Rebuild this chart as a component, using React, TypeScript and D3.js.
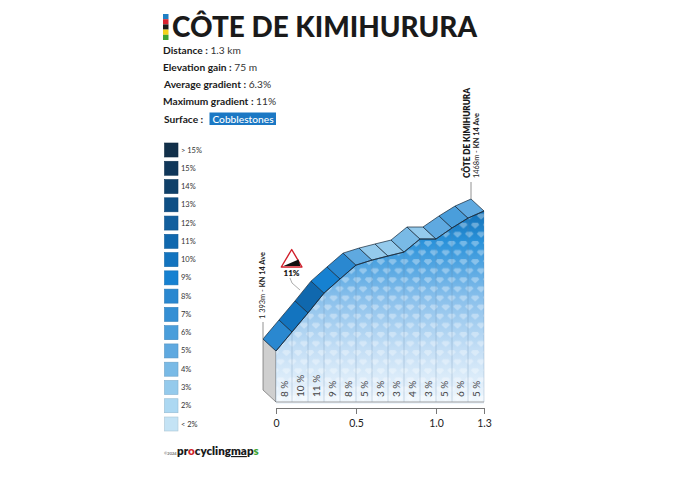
import * as d3 from "d3"
import { useEffect, useRef } from "react"

const climbName = "CÔTE DE KIMIHURURA"
const stripeColors = ["#1f7fc4", "#d8232f", "#1a1a1a", "#f2d21b", "#3fa535"]
const infoRows = [
    ["Distance :", " 1.3 km"],
    ["Elevation gain :", " 75 m"],
    ["Average gradient :", " 6.3%"],
    ["Maximum gradient :", " 11%"],
]
const surfaceLabel = "Surface :"
const surfaceValue = "Cobblestones"

const legendLabels = ["> 15%", "15%", "14%", "13%", "12%", "11%", "10%", "9%", "8%", "7%", "6%", "5%", "4%", "3%", "2%", "< 2%"]
const legendColors = ["#12304a", "#10375a", "#0f4069", "#0e4f85", "#125f9e", "#1068ae", "#1374bf", "#1681d1", "#2a88d0", "#348fd4", "#4a9edb", "#5fa9e0", "#79bae6", "#94caec", "#acd8f2", "#c4e3f5"]

const distances = [0, 0.1, 0.2, 0.3, 0.4, 0.5, 0.6, 0.7, 0.8, 0.9, 1.0, 1.1, 1.2, 1.3]
const elevations = [1393, 1403.2, 1413.4, 1424, 1431.6, 1439, 1441.7, 1443.9, 1446, 1453, 1453, 1458.9, 1464.2, 1468]
const gradients = [8, 10, 11, 9, 8, 5, 3, 3, 4, 3, 5, 6, 5]
const axisTicks = [0, 0.5, 1.0, 1.3]
const axisTickLabels = ["0", "0.5", "1.0", "1.3"]

const fontName = "Lato, sans-serif"

export default function App() {
    const svgRef = useRef<SVGSVGElement>(null)

    useEffect(() => {
        const width = 694
        const height = 480
        const baseY = 402
        const depthX = -13
        const depthY = -12

        const xScale = d3.scaleLinear([0, 1.3], [276, 484])
        const yScale = d3.scaleLinear([1393, 1468], [351, 211])

        if (svgRef.current !== null) {
            svgRef.current.innerHTML = ""
        }

        const svg = d3.select(svgRef.current)
            .attr("viewBox", [0, 0, width, height])
            .attr("width", width)
            .attr("height", height)
            .style("position", "absolute")
            .style("left", 0)
            .style("top", 0)
            .style("background", "#fff")
            .style("font-family", fontName)

        // colour stripe and title
        svg.append("g")
            .selectAll()
            .data(stripeColors)
            .join("rect")
                .attr("x", 163)
                .attr("y", (_, i) => 14 + i * 5.2)
                .attr("width", 5.5)
                .attr("height", 5.2)
                .attr("fill", d => d)

        svg.append("text")
            .attr("x", 172)
            .attr("y", 37)
            .attr("font-size", 28)
            .attr("font-weight", 900)
            .attr("fill", "#1a1a1a")
            .attr("textLength", 305)
            .attr("lengthAdjust", "spacingAndGlyphs")
            .text(climbName)

        // info rows
        const rowY = [54, 71, 88, 105]
        const rowX = [163, 163, 164, 163]
        infoRows.forEach((row, i) => {
            const t = svg.append("text")
                .attr("x", rowX[i])
                .attr("y", rowY[i])
                .attr("font-size", 10.2)
                .attr("fill", "#1a1a1a")
            t.append("tspan").attr("font-weight", 700).text(row[0])
            t.append("tspan").attr("fill", "#333").text(row[1])
        })
        svg.append("text")
            .attr("x", 164)
            .attr("y", 123)
            .attr("font-size", 10.2)
            .attr("font-weight", 700)
            .attr("fill", "#1a1a1a")
            .text(surfaceLabel)
        svg.append("rect")
            .attr("x", 209.5)
            .attr("y", 112.5)
            .attr("width", 66.5)
            .attr("height", 12.5)
            .attr("fill", "#1b78c4")
        svg.append("text")
            .attr("x", 243)
            .attr("y", 122.5)
            .attr("text-anchor", "middle")
            .attr("font-size", 10.2)
            .attr("font-weight", 500)
            .attr("fill", "#fff")
            .text(surfaceValue)

        // legend
        const legendY = d3.scalePoint(legendLabels, [143, 417])
        const legend = svg.append("g")
        legend.selectAll()
            .data(legendLabels)
            .join("rect")
                .attr("x", 164.5)
                .attr("y", d => legendY(d)!)
                .attr("width", 13.5)
                .attr("height", 14)
                .attr("fill", (_, i) => legendColors[i])
                .attr("stroke", (_, i) => d3.color(legendColors[i])!.darker(0.4).formatHex())
                .attr("stroke-width", 0.6)
        legend.selectAll("text")
            .data(legendLabels)
            .join("text")
                .attr("x", 181)
                .attr("y", d => legendY(d)! + 9.5)
                .attr("font-size", 7.5)
                .attr("fill", "#333")
                .text(d => d)

        // face gradient and gem pattern
        const defs = svg.append("defs")
        const grad = defs.append("linearGradient")
            .attr("id", "faceGrad")
            .attr("gradientUnits", "userSpaceOnUse")
            .attr("x1", 0).attr("x2", 0)
            .attr("y1", yScale(1468)).attr("y2", baseY)
        grad.selectAll("stop")
            .data([[0, "#1270b6"], [0.16, "#2a92da"], [0.45, "#88bfeb"], [0.72, "#c3def5"], [1, "#f0f7fd"]])
            .join("stop")
                .attr("offset", d => d[0] as number)
                .attr("stop-color", d => d[1] as string)

        const pattern = defs.append("pattern")
            .attr("id", "gems")
            .attr("patternUnits", "userSpaceOnUse")
            .attr("x", 280.5)
            .attr("y", 239)
            .attr("width", 11.8)
            .attr("height", 18.2)
        const gem = "M-4.2,0 L-2.6,-2.2 L2.6,-2.2 L4.2,0 L0,4 Z"
        const gemSpots = [[5.9, 4], [0, 13.1], [11.8, 13.1]]
        pattern.selectAll("path")
            .data(gemSpots)
            .join("path")
                .attr("d", gem)
                .attr("transform", d => `translate(${d[0]},${d[1]})`)
                .attr("fill", "#fff")
                .attr("fill-opacity", 0.34)

        const faceArea = d3.area<number>()
            .x(d => xScale(d))
            .y0(baseY + 2)
            .y1((_, i) => yScale(elevations[i]))
        const profileLine = d3.line<number>()
            .x(d => xScale(d))
            .y((_, i) => yScale(elevations[i]))

        // grey side of the block
        const x0 = xScale(0)
        const y0 = yScale(elevations[0])
        svg.append("path")
            .attr("d", d3.line()([
                [x0 + depthX, y0 + depthY],
                [x0, y0],
                [x0, baseY],
                [x0 + depthX, baseY + depthY],
            ]) + "Z")
            .attr("fill", "#cfcfcf")
            .attr("stroke", "#555")
            .attr("stroke-width", 0.6)

        svg.append("path").attr("d", faceArea(distances)).attr("fill", "url(#faceGrad)")
        svg.append("path").attr("d", faceArea(distances)).attr("fill", "url(#gems)")

        // section dividers and gradient labels
        svg.append("g")
            .selectAll()
            .data(distances)
            .join("line")
                .attr("x1", d => xScale(d))
                .attr("x2", d => xScale(d))
                .attr("y1", (_, i) => yScale(elevations[i]))
                .attr("y2", baseY)
                .attr("stroke", "#5f86a8")
                .attr("stroke-opacity", 0.4)
                .attr("stroke-width", 0.7)

        svg.append("line")
            .attr("x1", xScale(0))
            .attr("x2", xScale(1.3))
            .attr("y1", baseY)
            .attr("y2", baseY)
            .attr("stroke", "#888")
            .attr("stroke-width", 0.8)

        svg.append("g")
            .selectAll()
            .data(gradients)
            .join("text")
                .attr("transform", (_, i) => `translate(${(xScale(distances[i]) + xScale(distances[i + 1])) / 2 + 3.5},397) rotate(-90)`)
                .attr("font-size", 10)
                .attr("fill", "#444")
                .text(d => `${d} %`)

        // sloped road strip
        svg.append("g")
            .selectAll()
            .data(gradients)
            .join("path")
                .attr("d", (_, i) => {
                    const ax = xScale(distances[i])
                    const ay = yScale(elevations[i])
                    const bx = xScale(distances[i + 1])
                    const by = yScale(elevations[i + 1])
                    return d3.line()([[ax, ay], [bx, by], [bx + depthX, by + depthY], [ax + depthX, ay + depthY]]) + "Z"
                })
                .attr("fill", d => legendColors[legendLabels.indexOf(`${d}%`)])
                .attr("stroke", "#16283a")
                .attr("stroke-width", 0.7)
                .attr("stroke-linejoin", "round")

        svg.append("path")
            .attr("d", profileLine(distances))
            .attr("fill", "none")
            .attr("stroke", "#16283a")
            .attr("stroke-width", 0.8)

        // start label
        const startX = x0 + depthX
        const startY = y0 + depthY
        svg.append("line")
            .attr("x1", startX).attr("x2", startX)
            .attr("y1", startY).attr("y2", startY - 17)
            .attr("stroke", "#777")
            .attr("stroke-width", 0.8)
        const startLabel = svg.append("text")
            .attr("transform", `translate(${startX + 2.2},${startY - 20}) rotate(-90)`)
            .attr("font-size", 7.4)
            .attr("fill", "#222")
        startLabel.append("tspan").text("1 393m  -  ")
        startLabel.append("tspan").attr("font-weight", 700).text("KN 14 Ave")

        // finish label
        const endX = xScale(1.3) + depthX
        const endY = yScale(1468) + depthY
        svg.append("line")
            .attr("x1", endX).attr("x2", endX)
            .attr("y1", endY).attr("y2", endY - 17)
            .attr("stroke", "#777")
            .attr("stroke-width", 0.8)
        svg.append("text")
            .attr("transform", `translate(${endX - 1.2},178) rotate(-90)`)
            .attr("font-size", 8.4)
            .attr("font-weight", 800)
            .attr("fill", "#1a1a1a")
            .attr("textLength", 90)
            .attr("lengthAdjust", "spacingAndGlyphs")
            .text(climbName)
        const endLabel = svg.append("text")
            .attr("transform", `translate(${endX + 7.5},178) rotate(-90)`)
            .attr("font-size", 7.4)
            .attr("fill", "#222")
        endLabel.append("tspan").text("1468m - ")
        endLabel.append("tspan").attr("font-weight", 700).text("KN 14 Ave")

        // steepest section sign
        const sign = svg.append("g")
        sign.append("path")
            .attr("d", "M291.7,249.5 L302,267 L281.3,267 Z")
            .attr("fill", "#fff")
            .attr("stroke", "#d11f2b")
            .attr("stroke-width", 1.4)
            .attr("stroke-linejoin", "round")
        sign.append("path")
            .attr("d", "M283.5,266 L298.5,259.5 L300.3,266 Z")
            .attr("fill", "#111")
        sign.append("text")
            .attr("x", 291.5)
            .attr("y", 276)
            .attr("text-anchor", "middle")
            .attr("font-size", 8)
            .attr("font-weight", 800)
            .attr("fill", "#1a1a1a")
            .text(`${d3.max(gradients)}%`)
        sign.append("path")
            .attr("d", "M290,278 L292,283 L300,290")
            .attr("fill", "none")
            .attr("stroke", "#888")
            .attr("stroke-width", 0.7)

        // distance axis
        svg.append("g")
            .attr("transform", "translate(0,408)")
            .call(d3.axisBottom(xScale)
                .tickValues(axisTicks)
                .tickFormat((_, i) => axisTickLabels[i])
                .tickSize(6)
                .tickSizeOuter(6)
                .tickPadding(6))
            .call(g => g.selectAll("text")
                .attr("font-family", fontName)
                .attr("font-size", 10.5)
                .attr("fill", "#222"))
            .call(g => g.selectAll("line,path").attr("stroke", "#777"))

        // footer
        svg.append("text")
            .attr("x", 164)
            .attr("y", 455)
            .attr("font-size", 4)
            .attr("fill", "#333")
            .text("©2024")
        const logo = svg.append("text")
            .attr("x", 177)
            .attr("y", 455)
            .attr("font-size", 11.6)
            .attr("font-weight", 800)
            .attr("fill", "#1a1a1a")
        logo.append("tspan").text("pr")
        logo.append("tspan").attr("fill", "#d11f2b").text("o")
        logo.append("tspan").text("cycling")
        logo.append("tspan").attr("text-decoration", "underline").attr("style", "text-decoration-color:#1b78c4").text("ma")
        logo.append("tspan").text("p")
        logo.append("tspan").attr("fill", "#3fa535").text("s")
    }, [])

    return <svg ref={svgRef}></svg>
}
